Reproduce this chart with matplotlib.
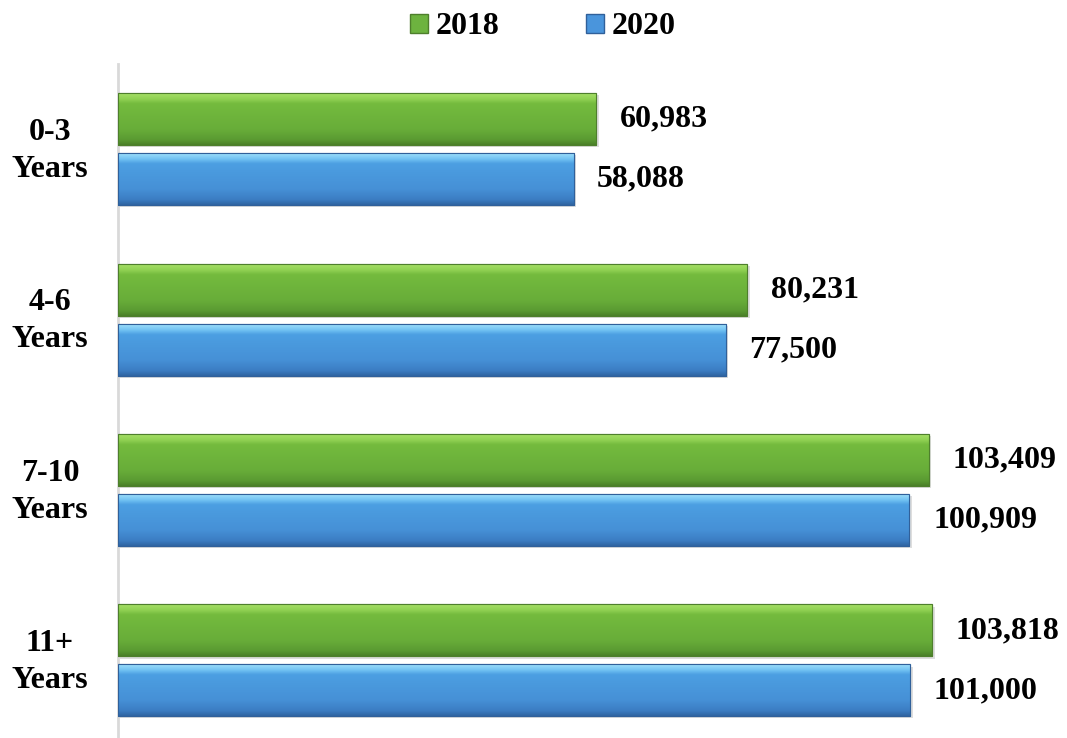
import numpy as np
import matplotlib
matplotlib.use("Agg")
import matplotlib.pyplot as plt
import matplotlib.transforms as mtransforms
from matplotlib.patches import Patch
from matplotlib.colors import LinearSegmentedColormap

categories = ["0-3\nYears", "4-6\nYears", "7-10\nYears", "11+\nYears"]
series_names = ["2018", "2020"]
values_2018 = [60983, 80231, 103409, 103818]
values_2020 = [58088, 77500, 100909, 101000]

plt.rcParams['font.family'] = ['Liberation Serif', 'DejaVu Serif']

W, H = 1067, 738
fig = plt.figure(figsize=(W / 100, H / 100), dpi=100)
ax = fig.add_axes([118 / W, 0, (1060 - 118) / W, (738 - 64) / H])

y = np.arange(len(categories))
off = 0.176
h = 0.305

green_cmap = LinearSegmentedColormap.from_list("g", [
    (0.0, "#a6e067"), (0.12, "#8fd052"), (0.2, "#74bb3e"),
    (0.7, "#68ad39"), (0.9, "#5a9a32"), (1.0, "#4a7f28")])
blue_cmap = LinearSegmentedColormap.from_list("b", [
    (0.0, "#9fe0fb"), (0.12, "#6fc0f2"), (0.2, "#4c9fe2"),
    (0.7, "#4690d6"), (0.9, "#3b7cc2"), (1.0, "#2f64a0")])

bars1 = ax.barh(y - off, values_2018, height=h, color="#6db33f",
                edgecolor="#4e7f2c", linewidth=0.8, zorder=3)
bars2 = ax.barh(y + off, values_2020, height=h, color="#4a95dc",
                edgecolor="#30609a", linewidth=0.8, zorder=3)

grad = np.linspace(0, 1, 256).reshape(-1, 1)
for bars, cmap in ((bars1, green_cmap), (bars2, blue_cmap)):
    for b in bars:
        x0, y0 = b.get_x(), b.get_y()
        w, hh = b.get_width(), b.get_height()
        ax.add_patch(plt.Rectangle((x0 + 300, y0 + 0.012), w, hh,
                                   facecolor="#d0d0d0", edgecolor="none",
                                   alpha=0.7, zorder=2))
        im = ax.imshow(grad, cmap=cmap, aspect="auto",
                       extent=(x0, x0 + w, y0 + hh, y0), zorder=4,
                       interpolation="bicubic")
        im.set_clip_path(b)
        ax.add_patch(plt.Rectangle((x0, y0), w, hh, facecolor="none",
                                   edgecolor=b.get_edgecolor(), linewidth=0.8,
                                   zorder=5))

for vals, ys in ((values_2018, y - off), (values_2020, y + off)):
    for v, yy in zip(vals, ys):
        ax.text(v + 3000, yy, f"{v:,}", va="center", ha="left",
                fontsize=23, fontweight="bold", color="black")

ax.set_xlim(0, 120100)
ax.set_ylim(3.455, -0.5)
ax.set_xticks([])
ax.set_yticks(y)
ax.set_yticklabels(categories, fontsize=23, fontweight="bold",
                   ha="center", linespacing=1.38)
ax.tick_params(axis="y", length=0, pad=49)
shift = mtransforms.ScaledTranslation(0, 6 / 100, fig.dpi_scale_trans)
for lab in ax.get_yticklabels():
    lab.set_transform(lab.get_transform() + shift)
for s in ("top", "right", "bottom"):
    ax.spines[s].set_visible(False)
ax.spines["left"].set_color("#d9d9d9")
ax.spines["left"].set_linewidth(2)

handles = [Patch(facecolor="#6db33f", edgecolor="#4e7f2c", label=series_names[0]),
           Patch(facecolor="#4a95dc", edgecolor="#30609a", label=series_names[1])]
fig.legend(handles=handles, loc="center", bbox_to_anchor=(543 / W, 1 - 27 / H),
           ncol=2, frameon=False, prop={"size": 23, "weight": "bold"},
           handlelength=0.55, handleheight=0.55, handletextpad=0.25,
           columnspacing=2.7)

fig.savefig("out.png", dpi=100)
